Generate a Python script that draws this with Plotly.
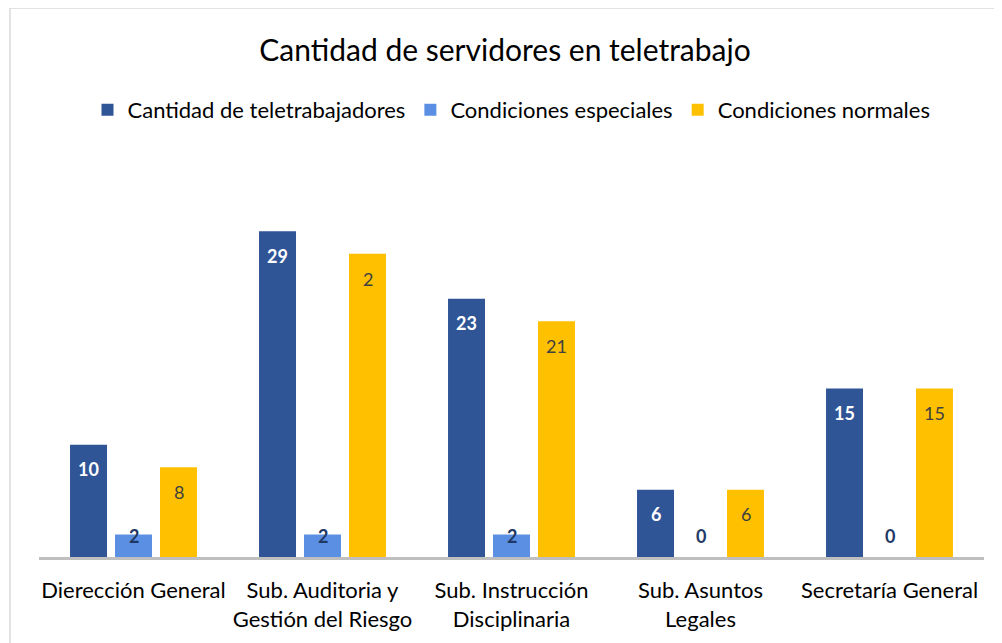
import plotly.graph_objects as go

# datos
categorias = ["Dierección General", "Sub. Auditoria y<br>Gestión del Riesgo",
              "Sub. Instrucción<br>Disciplinaria", "Sub. Asuntos<br>Legales",
              "Secretaría General"]
teletrabajadores = [10, 29, 23, 6, 15]
especiales = [2, 2, 2, 0, 0]
normales = [8, 27, 21, 6, 15]
etiquetas_normales = ["8", "2", "21", "6", "15"]

series = [
    ("Cantidad de teletrabajadores", teletrabajadores, [str(v) for v in teletrabajadores],
     "#2F5597", dict(color="white", size=18, weight="bold"), -45),
    ("Condiciones especiales", especiales, [str(v) for v in especiales],
     "#5B8FE3", dict(color="#1F3864", size=18, weight="bold"), 0),
    ("Condiciones normales", normales, etiquetas_normales,
     "#FFC000", dict(color="#404040", size=18), 45),
]

fig = go.Figure()
anotaciones = []
for nombre, valores, textos, color, fuente, dx in series:
    fig.add_trace(go.Bar(
        x=categorias, y=valores, name=nombre,
        marker=dict(color=color, line=dict(width=0)),
    ))
    # etiquetas "inside end" al estilo Excel
    for cat, v, t in zip(categorias, valores, textos):
        anotaciones.append(dict(
            x=cat, y=max(v - 2.2, 1.9), text=t, showarrow=False,
            xshift=dx, yanchor="middle", font=dict(family="Lato", **fuente)))

# la página tiene 8px de margen en el body
W, H = 994, 635
fig.update_layout(
    width=W, height=H,
    margin=dict(l=31, r=18, t=156, b=86),
    paper_bgcolor="white", plot_bgcolor="white",
    font=dict(family="Lato", color="#000000"),
    barmode="group", bargap=0.286, bargroupgap=0.178,
    title=dict(text="Cantidad de servidores en teletrabajo",
               x=0.5, xanchor="center", y=1 - 42 / H, yanchor="middle",
               font=dict(size=30, color="#000000")),
    legend=dict(orientation="h", x=0.5, xanchor="center",
                yref="container", y=1 - 102 / H, yanchor="middle",
                font=dict(size=22), itemwidth=30),
    annotations=anotaciones,
    shapes=[dict(type="rect", xref="paper", yref="paper",
                 x0=-0.0307, x1=1.2, y0=-0.5, y1=1.397,
                 line=dict(color="#D9D9D9", width=1.5), layer="below")],
    showlegend=True,
)
fig.update_xaxes(showline=True, linecolor="#BFBFBF", linewidth=3,
                 showgrid=False, ticks="", tickfont=dict(size=22),
                 ticklabelstandoff=12)
fig.update_yaxes(range=[0, 35], visible=False, showgrid=False)

fig.write_html("out.html")
